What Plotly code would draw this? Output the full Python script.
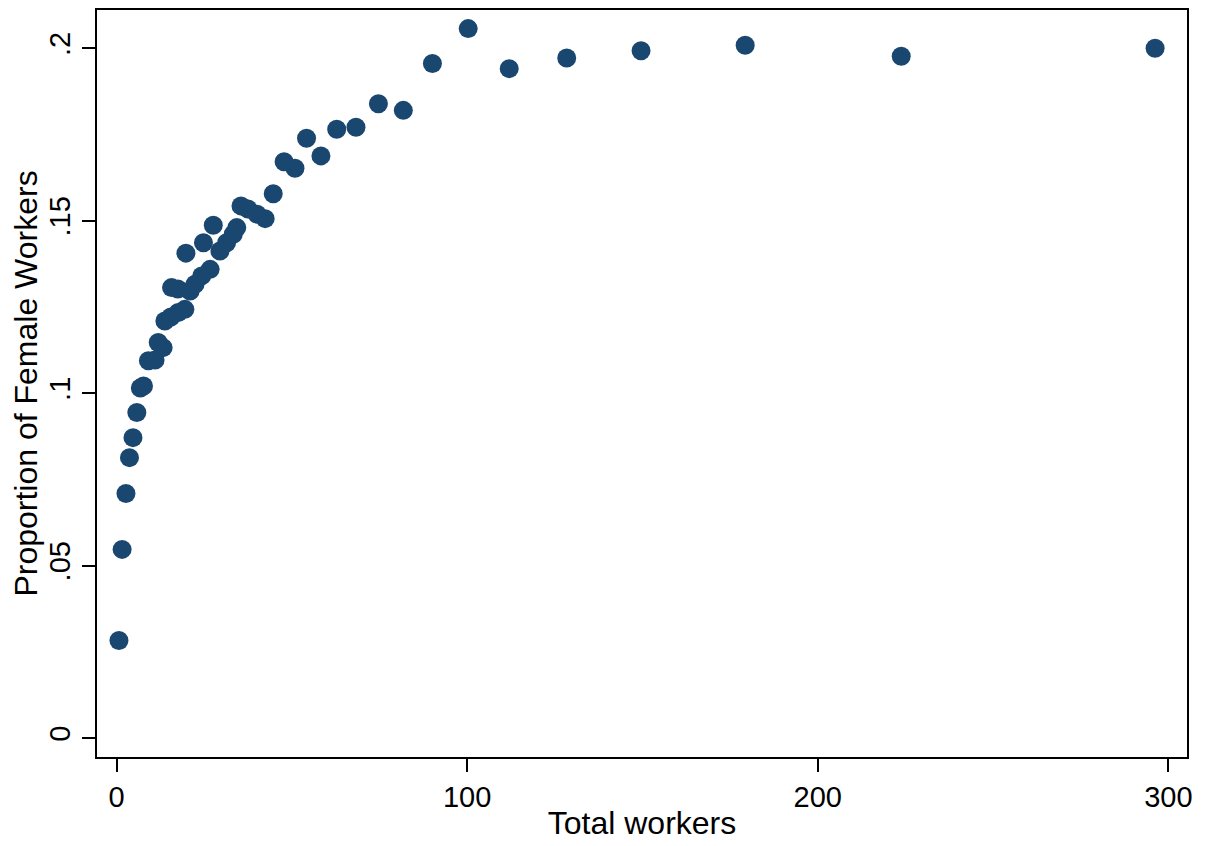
import plotly.graph_objects as go

# binned means: total workers vs share of female workers
total_workers = [0.7, 1.6, 2.7, 3.7, 4.7, 5.8, 6.8, 7.7, 9.1, 11.0,
                 11.9, 13.3, 13.8, 15.5, 17.6, 19.5, 15.7, 17.5, 19.8, 21.0,
                 22.4, 24.3, 26.7, 24.8, 27.6, 29.5, 31.4, 33.3, 34.3, 35.5,
                 37.5, 40.1, 42.4, 44.7, 47.8, 50.9, 54.2, 58.3, 62.8, 68.3,
                 74.7, 81.8, 90.1, 100.3, 112.0, 128.4, 149.6, 179.3, 223.8, 296.2]
female_share = [0.0283, 0.0547, 0.0709, 0.0813, 0.0871, 0.0944, 0.1015, 0.1021, 0.1094, 0.1096,
                0.1147, 0.1132, 0.1209, 0.1221, 0.1234, 0.1243, 0.1306, 0.1302, 0.1406, 0.1296,
                0.1316, 0.1340, 0.1359, 0.1436, 0.1487, 0.1412, 0.1436, 0.1461, 0.1480, 0.1543,
                0.1534, 0.1519, 0.1506, 0.1578, 0.1671, 0.1652, 0.1739, 0.1688, 0.1765, 0.1771,
                0.1839, 0.1820, 0.1956, 0.2057, 0.1941, 0.1972, 0.1993, 0.2009, 0.1977, 0.2000]

x_ticks = [0, 100, 200, 300]
y_ticks = [0, 0.05, 0.1, 0.15, 0.2]
y_tick_text = ["0", ".05", ".1", ".15", ".2"]

navy = "#1a476f"
font = "Liberation Sans, Arial, sans-serif"

fig = go.Figure()
fig.add_trace(go.Scatter(
    x=total_workers, y=female_share, mode="markers",
    marker=dict(size=19, color=navy, line=dict(width=0)),
    showlegend=False,
))

axis_common = dict(
    showgrid=False, zeroline=False,
    showline=True, linecolor="black", linewidth=2, mirror=True,
    ticks="outside", ticklen=13, tickwidth=1.5, tickcolor="black",
    tickfont=dict(family=font, size=29, color="black"),
)

# page body adds an 8px offset, so the figure is a bit smaller than the window
fig.update_layout(
    width=1201, height=838,
    margin=dict(l=89, r=22, t=0, b=89),
    paper_bgcolor="white", plot_bgcolor="white",
    font=dict(family=font, color="black"),
    xaxis=dict(
        range=[-5.56, 305.3], tickvals=x_ticks,
        title=dict(text="Total workers", font=dict(family=font, size=32, color="black"), standoff=0),
        **axis_common,
    ),
    yaxis=dict(
        range=[-0.0055, 0.2111], tickvals=y_ticks, ticktext=y_tick_text, tickangle=-90,
        title=dict(text="Proportion of Female Workers", font=dict(family=font, size=32, color="black"), standoff=2),
        **axis_common,
    ),
)

fig.write_html("out.html")
